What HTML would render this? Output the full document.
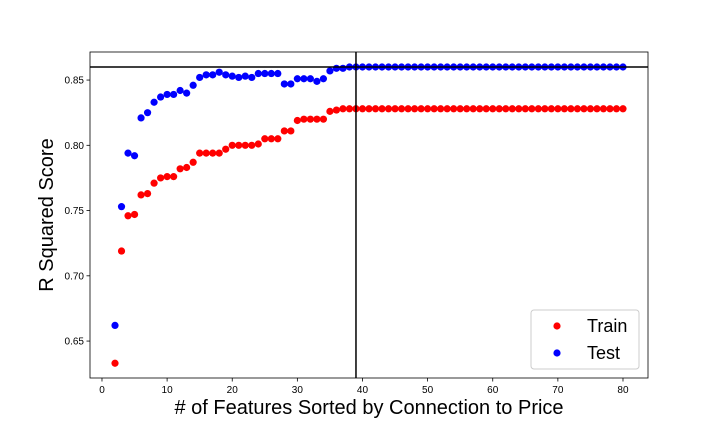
<!DOCTYPE html>
<html><head><meta charset="utf-8"><style>
body{margin:0;background:#fff;font-family:"Liberation Sans",sans-serif}
</style></head><body>
<svg id="chart" width="720" height="432" xmlns="http://www.w3.org/2000/svg" font-family="Liberation Sans, sans-serif">
<g id="marks"></g><g id="axes"></g>
</svg>
<script>
const featureCounts = Array.from({length:79},(_, i)=>i+2);
const trainScores = [.633,.719,.746,.747,.762,.763,.771,.775,.776,.776,.782,.783,.787,.794,.794,.794,.794,.797,.800,.800,.800,.800,.801,.805,.805,.805,.811,.811,.819,.820,.820,.820,.820,.826,.827,.828].concat(new Array(43).fill(.828));
const testScores = [.662,.753,.794,.792,.821,.825,.833,.837,.839,.839,.842,.840,.846,.852,.854,.854,.856,.854,.853,.852,.853,.852,.855,.855,.855,.855,.847,.847,.851,.851,.851,.849,.851,.857,.859,.859,.860].concat(new Array(42).fill(.860));
const xTicks = [0,10,20,30,40,50,60,70,80];
const yTicks = [0.65,0.70,0.75,0.80,0.85];
const bestScore = 0.860;
const bestCount = 39;

const NS="http://www.w3.org/2000/svg";
const L=90,R=648,T=52,B=378;
const xMin=-1.84,xMax=83.84,yMin=0.6217,yMax=0.8715;
const sx=v=>L+(v-xMin)/(xMax-xMin)*(R-L);
const sy=v=>B-(v-yMin)/(yMax-yMin)*(B-T);
const marks=document.getElementById('marks'), axes=document.getElementById('axes');
function mk(tag,attrs,parent){const e=document.createElementNS(NS,tag);for(const k in attrs)e.setAttribute(k,attrs[k]);parent.appendChild(e);return e;}

featureCounts.forEach((c,i)=>{
  const p=mk('circle',{cx:sx(c),cy:sy(trainScores[i]),r:3.6,fill:'#ff0000'},marks);
  
  
});
featureCounts.forEach((c,i)=>{
  const p=mk('circle',{cx:sx(c),cy:sy(testScores[i]),r:3.6,fill:'#0000ff'},marks);
  
  
});
let h=mk('line',{x1:L,x2:R,y1:sy(bestScore),y2:sy(bestScore),stroke:'#000','stroke-width':1.5},marks);


let v=mk('line',{x1:sx(bestCount),x2:sx(bestCount),y1:T,y2:B,stroke:'#000','stroke-width':1.5},marks);



let f=mk('rect',{x:L,y:T,width:R-L,height:B-T,fill:'none',stroke:'#000','stroke-width':0.8},axes);


xTicks.forEach(t=>{
  mk('line',{x1:sx(t),x2:sx(t),y1:B,y2:B+3.5,stroke:'#000','stroke-width':0.8},axes);
  const tx=mk('text',{x:sx(t),y:B+15,'font-size':10,'text-anchor':'middle',fill:'#000'},axes);
  tx.textContent=t;
  
  
});
yTicks.forEach(t=>{
  mk('line',{x1:L-3.5,x2:L,y1:sy(t),y2:sy(t),stroke:'#000','stroke-width':0.8},axes);
  const tx=mk('text',{x:L-6,y:sy(t)+3.5,'font-size':10,'text-anchor':'end',fill:'#000'},axes);
  tx.textContent=t.toFixed(2);
  
  
});
let xt=mk('text',{x:(L+R)/2,y:414,'font-size':20,'text-anchor':'middle'},axes);
xt.textContent='# of Features Sorted by Connection to Price';


let yt=mk('text',{x:0,y:0,'font-size':20,'text-anchor':'middle',transform:`translate(53,${(T+B)/2}) rotate(-90)`},axes);
yt.textContent='R Squared Score';



const lg=mk('g',{},axes);


mk('rect',{x:531,y:310,width:108,height:59,rx:3,fill:'#fff',stroke:'#ccc','stroke-width':1},lg);
[['Train','#ff0000',326],['Test','#0000ff',353]].forEach(([n,c,y])=>{
  const g=mk('g',{},lg);
  
  
  mk('circle',{cx:557,cy:y,r:3.6,fill:c},g);
  const t=mk('text',{x:587,y:y+6,'font-size':18},g);
  t.textContent=n;
});
</script>
</body></html>
